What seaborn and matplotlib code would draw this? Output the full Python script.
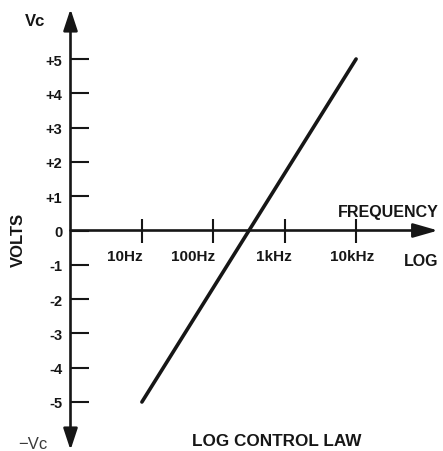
import numpy as np
import pandas as pd
import matplotlib
matplotlib.use("Agg")
import matplotlib.pyplot as plt
import matplotlib.transforms as mtransforms
import seaborn as sns

# Control law: output volts against frequency on a log scale
freq_hz = [10, 10000]
volts = [-5, 5]

freq_ticks = [10, 100, 1000, 10000]
freq_labels = ["10Hz", "100Hz", "1kHz", "10kHz"]
volt_ticks = [5, 4, 3, 2, 1, 0, -1, -2, -3, -4, -5]
volt_labels = ["+5", "+4", "+3", "+2", "+1", "0", "-1", "-2", "-3", "-4", "-5"]

sns.set_theme(style="white")
plt.rcParams["font.family"] = ["Liberation Sans", "DejaVu Sans"]

INK = "#161616"
W, H, DPI = 443, 452, 100

fig = plt.figure(figsize=(W / DPI, H / DPI), dpi=DPI)
ax = fig.add_axes([0, 0, 1, 1])
ax.set_facecolor("white")

# pixel layout of the diagram: 1 Hz at x=70.5 px, 71.4 px per decade;
# 0 V at y=231.5 px, 34.3 px per volt
X0, DEC = 70.5, 71.4
Y0, PPV = 231.5, 34.3


def fx(px):
    return 10 ** ((px - X0) / DEC)


def fy(py):
    return (Y0 - py) / PPV


ax.set_xscale("log")
ax.set_xlim(fx(0), fx(W))
ax.set_ylim(fy(H), fy(0))

df = pd.DataFrame({"freq": freq_hz, "volts": volts})
sns.lineplot(data=df, x="freq", y="volts", ax=ax, color=INK, lw=2.6,
             solid_capstyle="round")
ax.set_xlabel("")
ax.set_ylabel("")

# axes crossing at 1 Hz / 0 V
for side in ("top", "right"):
    ax.spines[side].set_visible(False)
ax.spines["left"].set_position(("data", 1))
ax.spines["bottom"].set_position(("data", 0))
ax.spines["left"].set_visible(False)
ax.spines["bottom"].set_visible(False)

ax.set_yticks(volt_ticks, volt_labels)
ax.set_xticks(freq_ticks, freq_labels)
ax.xaxis.set_minor_locator(matplotlib.ticker.NullLocator())
ax.tick_params(axis="y", direction="in", length=13, width=1.5, color=INK,
               pad=6, labelsize=10.5, labelcolor=INK, left=True)
ax.tick_params(axis="x", direction="inout", length=17, width=1.5, color=INK,
               pad=4.5, labelsize=11, labelcolor=INK, bottom=True)
for lab in ax.get_yticklabels() + ax.get_xticklabels():
    lab.set_fontweight("bold")

# hand-lettered frequency labels sit a little left of their ticks
label_shift_px = [-17, -20, -11, -4]
for tick, dx in zip(ax.xaxis.get_major_ticks(), label_shift_px):
    shift = mtransforms.ScaledTranslation(dx / DPI, 0, fig.dpi_scale_trans)
    tick.label1.set_transform(tick.label1.get_transform() + shift)

# axis lines with arrowheads
ax.annotate("", xy=(1, fy(10)), xytext=(1, fy(451)), xycoords="data",
            arrowprops=dict(arrowstyle="<|-|>,head_length=1.3,head_width=0.43",
                            mutation_scale=10, lw=1.9, color=INK,
                            shrinkA=0, shrinkB=0), annotation_clip=False)
ax.annotate("", xy=(fx(438), 0), xytext=(1, 0), xycoords="data",
            arrowprops=dict(arrowstyle="-|>,head_length=1.5,head_width=0.43",
                            mutation_scale=10, lw=1.9, color=INK,
                            shrinkA=0, shrinkB=0), annotation_clip=False)


def put(px, py, s, color=INK, **kw):
    fig.text(px / W, 1 - py / H, s, ha="center", va="center", color=color, **kw)


put(35, 21, "Vc", fontsize=12, fontweight="bold")
put(33, 445, "\u2212Vc", fontsize=12, color="#3a3a3a")
put(18.5, 240, "VOLTS", fontsize=12, fontweight="bold", rotation=90)
put(388, 212.5, "FREQUENCY", fontsize=11.5, fontweight="bold")
put(421, 262, "LOG", fontsize=11.5, fontweight="bold")
put(277, 442, "LOG CONTROL LAW", fontsize=12.3, fontweight="bold")

fig.savefig("out.png", dpi=DPI, facecolor="white")
